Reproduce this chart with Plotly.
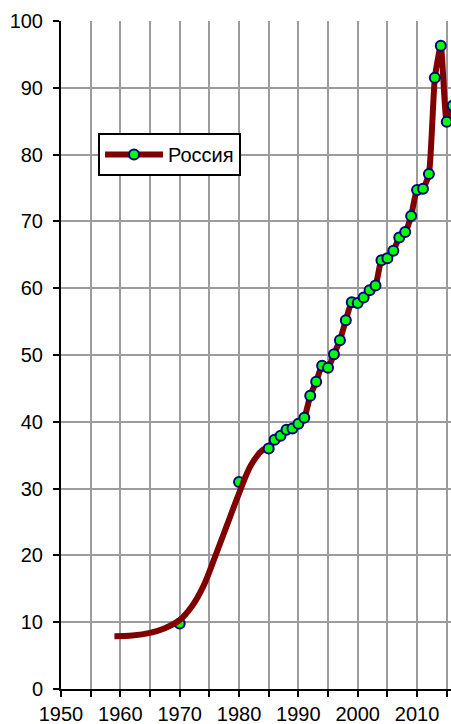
import plotly.graph_objects as go

# Smoothed trend for the early decades
trend_years = [1959, 1962, 1965, 1967.5, 1970, 1972, 1974, 1976, 1978, 1980, 1982, 1984, 1985]
trend_values = [7.9, 8.0, 8.4, 9.1, 10.3, 12.3, 15.4, 19.9, 24.6, 29.3, 33.5, 35.8, 36.2]

# Isolated early observations
early_years = [1970, 1980]
early_values = [9.8, 31.0]

# Annual observations
years = [1985, 1986, 1987, 1988, 1989, 1990, 1991, 1992, 1993, 1994, 1995, 1996,
         1997, 1998, 1999, 2000, 2001, 2002, 2003, 2004, 2005, 2006, 2007, 2008,
         2009, 2010, 2011, 2012, 2013, 2014, 2015, 2016]
values = [36.0, 37.3, 37.9, 38.8, 39.0, 39.7, 40.6, 43.9, 46.0, 48.4, 48.1, 50.1,
          52.2, 55.2, 57.9, 57.8, 58.6, 59.7, 60.4, 64.2, 64.5, 65.6, 67.6, 68.4,
          70.8, 74.7, 74.9, 77.1, 91.5, 96.3, 84.9, 87.3]

series_name = "Россия"

x_ticks = list(range(1950, 2020, 5))
x_labels = [str(t) if t % 10 == 0 else "" for t in x_ticks]
y_ticks = list(range(0, 110, 10))

LINE_COLOR = "#800000"
MARKER = dict(size=10, color="#00FF00", line=dict(color="#000080", width=2))
FONT = "Liberation Sans, Arial, sans-serif"

fig = go.Figure()

fig.add_trace(go.Scatter(
    x=early_years, y=early_values, mode="markers", marker=MARKER,
    showlegend=False, hoverinfo="x+y",
))
fig.add_trace(go.Scatter(
    x=trend_years, y=trend_values, mode="lines",
    line=dict(color=LINE_COLOR, width=6, shape="spline", smoothing=1.0),
    showlegend=False, hoverinfo="skip",
))
fig.add_trace(go.Scatter(
    x=years, y=values, mode="lines+markers", name=series_name,
    line=dict(color=LINE_COLOR, width=6, shape="spline", smoothing=0.5),
    marker=MARKER,
))

axis_common = dict(
    showgrid=True, gridcolor="#9c9c9c", gridwidth=2,
    showline=True, linecolor="black", linewidth=2,
    ticks="outside", ticklen=6, tickwidth=2, tickcolor="black",
    tickfont=dict(family=FONT, size=20, color="black"),
    zeroline=False, fixedrange=True, automargin=False,
)

fig.update_xaxes(
    range=[1950, 2015.72], tickvals=x_ticks, ticktext=x_labels,
    ticklabelstandoff=0, **axis_common,
)
fig.update_yaxes(
    range=[0, 100], tickvals=y_ticks, ticklabelstandoff=6, **axis_common,
)

fig.update_layout(
    width=451, height=724,
    margin=dict(l=61, r=0, t=21, b=35, pad=0),
    paper_bgcolor="white", plot_bgcolor="white",
    font=dict(family=FONT, size=20, color="black"),
    legend=dict(
        x=0.0949, y=0.8323, xanchor="left", yanchor="top",
        bgcolor="white", bordercolor="black", borderwidth=2,
        font=dict(family=FONT, size=20, color="black"),
        itemwidth=58,
    ),
)

fig.write_html("out.html")
